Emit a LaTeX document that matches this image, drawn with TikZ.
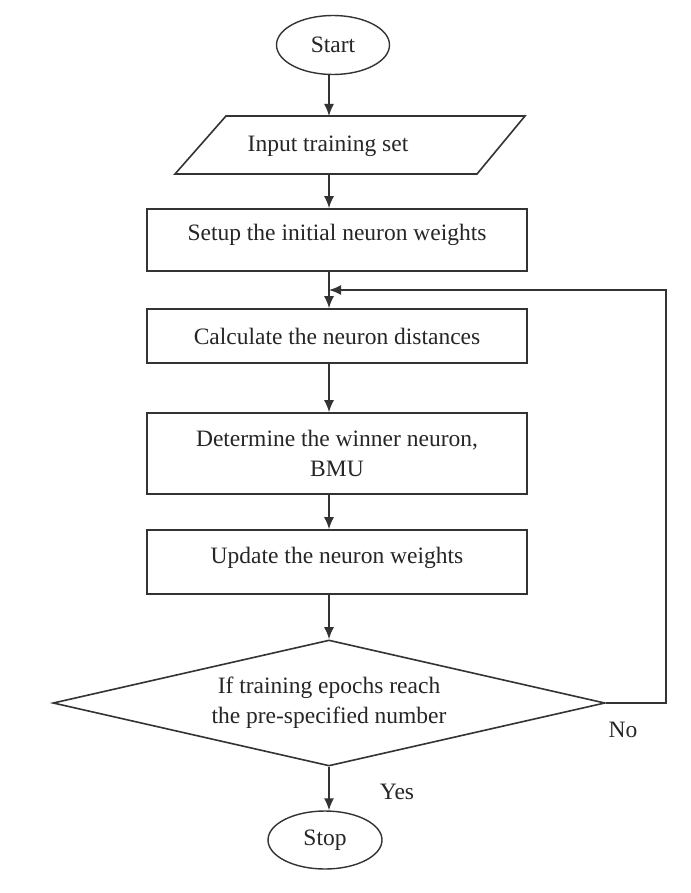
\documentclass[tikz,border=0pt]{standalone}
\usepackage{fontspec}
\setmainfont{Liberation Serif}
\usetikzlibrary{shapes.geometric,arrows.meta}
\definecolor{lc}{HTML}{333333}
\definecolor{tc}{HTML}{262626}
\begin{document}
\begin{tikzpicture}[x=1pt,y=-1pt,
  every node/.style={font=\fontsize{23.5}{30}\selectfont, text=tc},
  box/.style={draw=lc, line width=1.6pt, rectangle, minimum width=380pt, inner sep=0pt, align=center},
  term/.style={draw=lc, line width=1.4pt, ellipse, inner sep=0pt},
  arr/.style={draw=lc, line width=1.6pt, -{Latex[length=12pt,width=10pt]}},
  ln/.style={draw=lc, line width=1.6pt}]
\path[use as bounding box, fill=white] (0,0) rectangle (690,893);
\coordinate (ax) at (329,0);

\node[term, minimum width=113pt, minimum height=59pt] (start) at (333,45) {Start};

% parallelogram
\coordinate (p1) at (226,116);
\coordinate (p2) at (525,116);
\coordinate (p3) at (477,174);
\coordinate (p4) at (175,174);
\draw[ln, line join=miter] (p1) -- (p2) -- (p3) -- (p4) -- cycle;
\node (inp) at (328,146) {Input training set};
\coordinate (inpT) at (329,116);
\coordinate (inpB) at (329,174);

\node[box, minimum height=62pt, text depth=16pt] (b1) at (337,240) {Setup the initial neuron weights};
\node[box, minimum height=54pt] (b2) at (337,336) {Calculate the neuron distances};
\node[box, minimum height=81pt] (b3) at (337,453.5) {Determine the winner neuron,\\BMU};
\node[box, minimum height=64pt, text depth=14pt] (b4) at (337,562) {Update the neuron weights};

\node[draw=lc, line width=1.6pt, diamond, aspect=4.38, minimum width=552pt, minimum height=126pt, inner sep=0pt, align=center] (dec) at (329,703) {If training epochs reach\\the pre-specified number};

\node[term, minimum width=114pt, minimum height=58pt] (stop) at (325,840) {Stop};

\node (yes) at (397,792) {Yes};
\node (no) at (623,730) {No};

\coordinate (loopin) at (329,290);
\coordinate (loopc) at (666,290);

\draw[arr] (start.south -| ax) -- (inpT);
\draw[arr] (inpB) -- (b1.north -| ax);
\draw[arr] (b1.south -| ax) -- (b2.north -| ax);
\draw[arr] (b2.south -| ax) -- (b3.north -| ax);
\draw[arr] (b3.south -| ax) -- (b4.north -| ax);
\draw[arr] (b4.south -| ax) -- (dec.north);
\draw[arr] (dec.south) -- (stop.north -| dec.south);
\draw[arr, line join=miter] (dec.east) -| (loopc) -- (loopin);
\end{tikzpicture}
\end{document}
